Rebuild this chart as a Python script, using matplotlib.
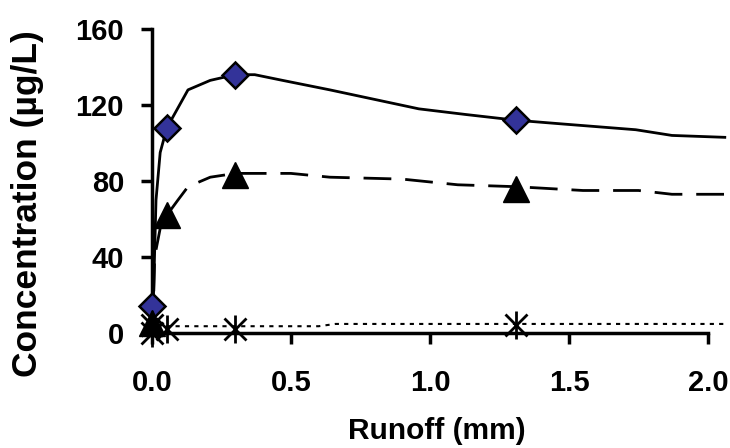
import matplotlib
matplotlib.use("Agg")
import matplotlib.pyplot as plt

# measured points (runoff in mm, concentration in ug/L)
pt_x = [0.0, 0.054, 0.30, 1.31]
diamond_y = [14, 108, 136, 112]
triangle_y = [5, 62, 83, 76]
star_x = [0.0, 0.0, 0.054, 0.30, 1.31]
star_y = [0, 4, 2, 2, 4]

# fitted curves
solid_x = [0.0, 0.005, 0.015, 0.03, 0.054, 0.13, 0.21, 0.30, 0.37, 0.47, 0.64,
           0.96, 1.13, 1.31, 1.48, 1.74, 1.87, 2.06]
solid_y = [0, 15, 70, 95, 108, 128, 133, 136, 136, 133, 128,
           118, 115, 112, 110, 107, 104, 103]
dash_x = [0.0, 0.005, 0.01, 0.03, 0.054, 0.094, 0.13, 0.21, 0.30, 0.5, 0.64,
          0.9, 1.1, 1.31, 1.55, 1.75, 1.87, 2.06]
dash_y = [0, 10, 40, 55, 62, 70, 77, 82, 84, 84, 82,
          81, 78, 77, 75, 75, 73, 73]
dot_x = [0.0, 0.01, 0.6, 0.66, 2.06]
dot_y = [0, 3.5, 3.5, 4.7, 4.7]

xticks = [0.0, 0.5, 1.0, 1.5, 2.0]
xtick_labels = ["0.0", "0.5", "1.0", "1.5", "2.0"]
yticks = [0, 40, 80, 120, 160]

font = "Liberation Sans"

fig = plt.figure(figsize=(7.3, 4.48), dpi=100)
ax = fig.add_axes([0.208, 0.257, 0.762, 0.678])

ax.plot(solid_x, solid_y, color="black", lw=2, clip_on=False, zorder=2)
ax.plot(dash_x, dash_y, color="black", lw=2, dashes=(10, 5), clip_on=False, zorder=2)
ax.plot(dot_x, dot_y, color="black", lw=1.5, dashes=(2, 2.5), clip_on=False, zorder=2)

ax.plot(pt_x, diamond_y, ls="none", marker="D", ms=13, mfc="#333399", mec="black",
        mew=1.8, clip_on=False, zorder=4)
ax.plot(pt_x, triangle_y, ls="none", marker="^", ms=19, color="black",
        clip_on=False, zorder=4)
# asterisk = x plus vertical bar
ax.plot(star_x, star_y, ls="none", marker="x", ms=16, mew=2, color="black",
        clip_on=False, zorder=5)
ax.plot(star_x, star_y, ls="none", marker="|", ms=20, mew=2, color="black",
        clip_on=False, zorder=5)

ax.set_xlim(0, 2.0)
ax.set_ylim(0, 160)
ax.set_xticks(xticks)
ax.set_xticklabels(xtick_labels)
ax.set_yticks(yticks)

for s in ["top", "right"]:
    ax.spines[s].set_visible(False)
for s in ["left", "bottom"]:
    ax.spines[s].set_linewidth(2.5)
ax.tick_params(axis="x", direction="out", length=8, width=2.5, pad=18)
ax.tick_params(axis="y", direction="out", length=8, width=2.5, pad=12)
for lab in ax.get_xticklabels() + ax.get_yticklabels():
    lab.set_fontfamily(font)
    lab.set_fontweight("bold")
    lab.set_fontsize(21)

ax.set_xlabel("Runoff (mm)", fontfamily=font, fontweight="bold", fontsize=21.5, va="center")
ax.xaxis.set_label_coords(0.513, -0.322)
ax.set_ylabel("Concentration (µg/L)", fontfamily=font, fontweight="bold",
              fontsize=25.5, va="center")
ax.yaxis.set_label_coords(-0.224, 0.424)

fig.savefig("out.png", dpi=100)
